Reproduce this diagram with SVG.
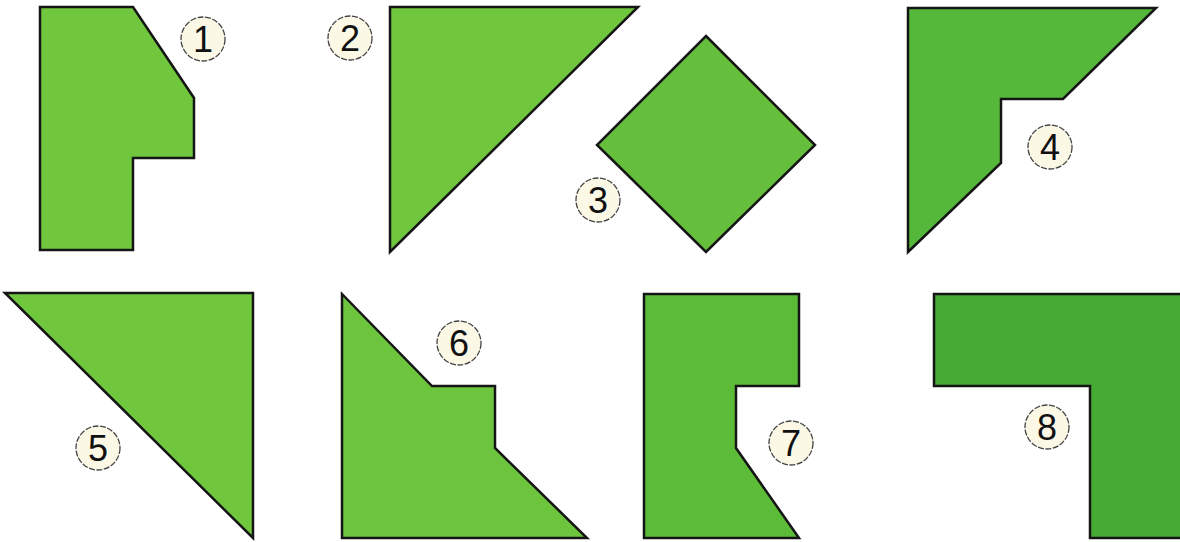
<svg xmlns="http://www.w3.org/2000/svg" width="1180" height="542" viewBox="0 0 1180 542">
<style>
.piece{stroke:#151515;stroke-width:2.5;stroke-linejoin:miter}
.lbl circle{fill:#fbf9e6;stroke:#444;stroke-width:1.3;stroke-dasharray:6 1.5}
.lbl text{font-family:"Liberation Sans",Arial,sans-serif;font-size:36px;fill:#111;text-anchor:middle}
</style>
<rect width="1180" height="542" fill="#ffffff"/>
<g id="piece1">
<polygon class="piece" fill="#70c73d" points="40,7 133,7 194,98 194,158 133,158 133,250 40,250"/>
<g class="lbl"><circle cx="203" cy="39" r="22"/><text x="203" y="52">1</text></g>
</g>
<g id="piece2">
<polygon class="piece" fill="#70c73d" points="390,7 638,7 390,252"/>
<g class="lbl"><circle cx="350" cy="38" r="22"/><text x="350" y="51">2</text></g>
</g>
<g id="piece3">
<polygon class="piece" fill="#66bf3c" points="706,36 815,145 706,252 597,145"/>
<g class="lbl"><circle cx="598" cy="200" r="22"/><text x="598" y="213">3</text></g>
</g>
<g id="piece4">
<polygon class="piece" fill="#55b83a" points="908,8 1156,8 1063,99 1001,99 1001,163 908,252"/>
<g class="lbl"><circle cx="1050" cy="147" r="22"/><text x="1050" y="160">4</text></g>
</g>
<g id="piece5">
<polygon class="piece" fill="#70c73d" points="5,293 253,293 253,538"/>
<g class="lbl"><circle cx="98" cy="448" r="22"/><text x="98" y="461">5</text></g>
</g>
<g id="piece6">
<polygon class="piece" fill="#6cc53c" points="342,294 432,386 495,386 495,448 587,538 342,538"/>
<g class="lbl"><circle cx="459" cy="343" r="22"/><text x="459" y="356">6</text></g>
</g>
<g id="piece7">
<polygon class="piece" fill="#5cbc37" points="644,294 799,294 799,386 736,386 736,448 799,538 644,538"/>
<g class="lbl"><circle cx="791" cy="443" r="22"/><text x="791" y="456">7</text></g>
</g>
<g id="piece8">
<polygon class="piece" fill="#46aa35" points="934,294 1182,294 1182,538 1090,538 1090,386 934,386"/>
<g class="lbl"><circle cx="1047" cy="427" r="22"/><text x="1047" y="440">8</text></g>
</g>
</svg>
